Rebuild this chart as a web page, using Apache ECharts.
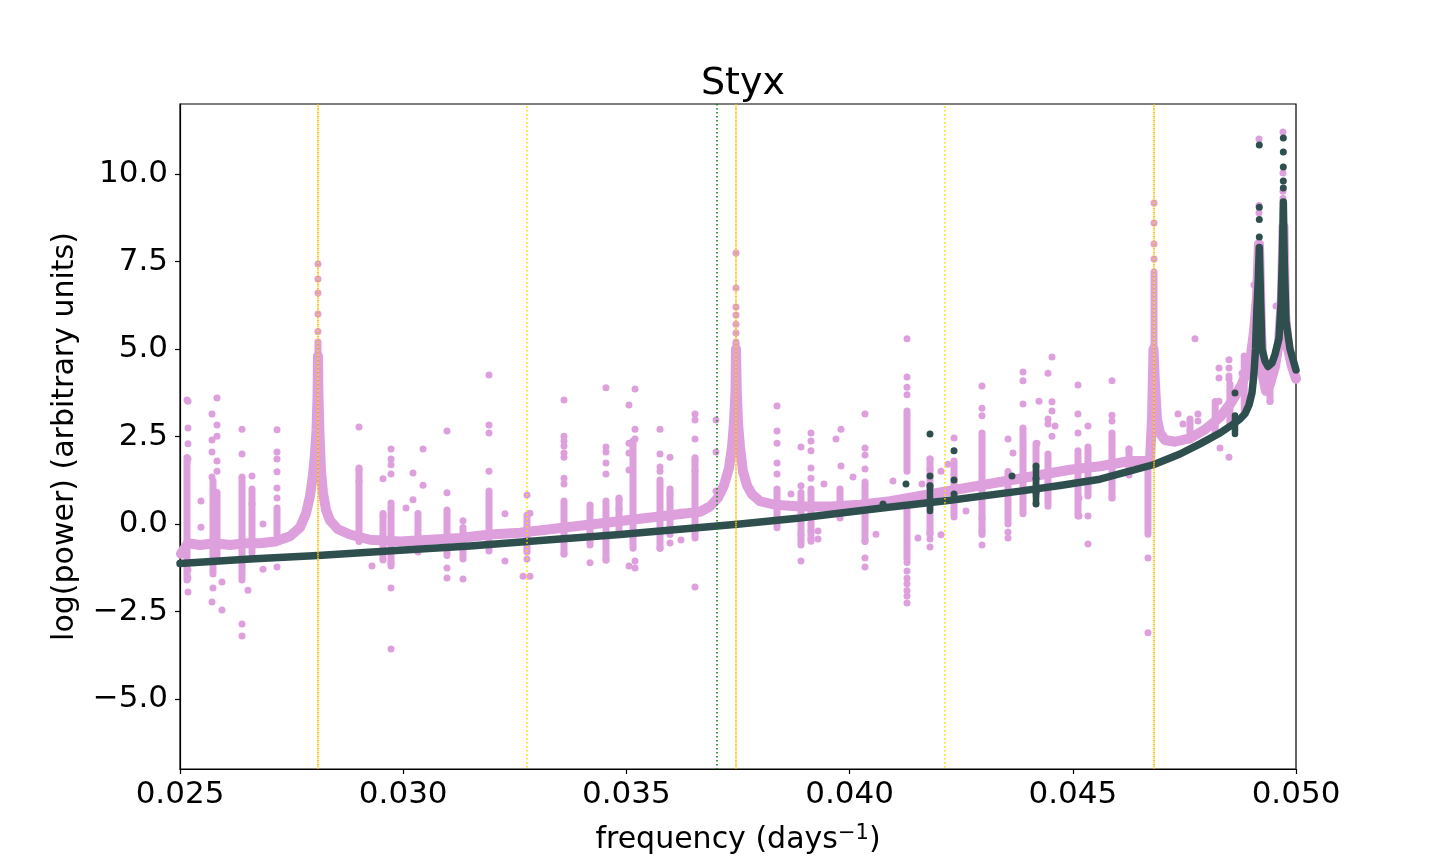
<!DOCTYPE html>
<html>
<head>
<meta charset="utf-8">
<title>Styx</title>
<script src="https://cdn.jsdelivr.net/npm/echarts@6/dist/echarts.min.js"></script>
<style>
  html, body { margin: 0; padding: 0; background: #fff; }
  #chart { width: 1440px; height: 864px; }
</style>
</head>
<body>
<div id="chart"></div>
<script>
// tick positions
var xTicks = [0.025, 0.030, 0.035, 0.040, 0.045, 0.050];
var yTicks = [-5, -2.5, 0, 2.5, 5, 7.5, 10];

// reference frequencies (vertical dotted lines)
var orangeLines = [0.028091, 0.037455, 0.046819];
var goldLines = [0.028091, 0.032773, 0.037455, 0.042137, 0.046819];
var greenLines = [0.037029];

// pink periodogram: continuum band [freq, log power]
var pinkBand = [
  [0.025022, -0.85], [0.025179, -0.55], [0.025448, -0.6], [0.025784, -0.55], [0.026120, -0.6],
  [0.026456, -0.55], [0.026792, -0.55], [0.027128, -0.5], [0.027464, -0.35], [0.027688, -0.1],
  [0.027823, 0.3], [0.027912, 0.8], [0.027979, 1.4], [0.028024, 2.0], [0.028058, 2.7],
  [0.028080, 3.6], [0.028091, 4.8], [0.028103, 3.6], [0.028125, 2.6], [0.028159, 1.5],
  [0.028203, 0.9], [0.028271, 0.4], [0.028360, 0.1], [0.028539, -0.15], [0.028808, -0.3],
  [0.029256, -0.45], [0.029928, -0.5], [0.030600, -0.45], [0.031272, -0.4], [0.031944, -0.3],
  [0.032616, -0.25], [0.033289, -0.15], [0.033961, -0.05], [0.034633, 0.05], [0.035305, 0.15],
  [0.035977, 0.25], [0.036649, 0.35], [0.036873, 0.5], [0.037052, 0.75], [0.037186, 1.1],
  [0.037298, 1.6], [0.037366, 2.2], [0.037410, 2.9], [0.037444, 3.8], [0.037455, 5.0],
  [0.037473, 3.8], [0.037500, 2.9], [0.037545, 2.2], [0.037612, 1.5], [0.037702, 1.1],
  [0.037814, 0.85], [0.037993, 0.65], [0.038329, 0.55], [0.038889, 0.5], [0.039561, 0.5],
  [0.040233, 0.55], [0.040905, 0.65], [0.041577, 0.8], [0.042249, 0.95], [0.042921, 1.1],
  [0.043593, 1.25], [0.044265, 1.4], [0.044937, 1.55], [0.045609, 1.65], [0.046281, 1.8],
  [0.046550, 1.8], [0.046729, 1.8], [0.046774, 3.0], [0.046808, 5.0], [0.046841, 4.0],
  [0.046886, 3.0], [0.046953, 2.6], [0.047065, 2.4], [0.047289, 2.35], [0.047625, 2.45],
  [0.047961, 2.7], [0.048297, 3.05], [0.048566, 3.5], [0.048790, 4.0], [0.048969, 4.6],
  [0.049059, 5.5], [0.049126, 6.5], [0.049171, 8.0], [0.049216, 5.5], [0.049261, 4.2],
  [0.049328, 3.8], [0.049418, 4.0], [0.049530, 4.5], [0.049619, 5.2], [0.049686, 6.5],
  [0.049720, 8.5], [0.049754, 6.0], [0.049821, 5.0], [0.049910, 4.5], [0.050000, 4.15]
];

// pink dense vertical clusters [freq, low, high]
var pinkStreaks = [
  [0.025157, -1.6, 1.9], [0.025739, -1.43, 1.23], [0.025829, -0.9, 0.9], [0.026389, -1.6, 1.3],
  [0.026613, -0.83, 1.0], [0.027173, -0.3, 0.46], [0.028091, 3.0, 5.2], [0.029010, -0.5, 1.6],
  [0.029548, -1.0, 0.3], [0.029727, -1.2, 0.6], [0.030331, -0.8, 0.3], [0.030981, -0.9, 0.4],
  [0.031340, -1.0, -0.1], [0.031922, -0.77, 0.94], [0.032773, -0.77, 0.2], [0.033602, -0.86, 0.66],
  [0.034185, -0.6, 0.51], [0.034543, -1.03, 0.66], [0.034834, -0.3, 0.74], [0.035148, -0.69, 2.37],
  [0.035753, -0.69, 1.2], [0.035977, -0.3, 1.0], [0.036537, -0.4, 1.89], [0.037455, 3.8, 5.2],
  [0.038374, -0.11, 1.0], [0.038911, -0.6, 0.9], [0.039135, -0.49, 1.0], [0.039785, 0.17, 1.0],
  [0.040345, -0.5, 1.2], [0.041286, 1.51, 3.23], [0.041286, -1.0, 0.57], [0.041801, -0.3, 1.86],
  [0.042339, 0.2, 1.8], [0.042966, -0.3, 2.6], [0.043548, 0.0, 1.5], [0.043884, 0.29, 2.74],
  [0.044176, 0.8, 2.3], [0.044444, 0.51, 2.0], [0.045116, 0.23, 2.09], [0.045340, 0.8, 2.2],
  [0.045878, 0.74, 2.6], [0.046259, 1.4, 2.14], [0.046684, -0.29, 1.8], [0.046819, 2.9, 7.2],
  [0.047625, 2.4, 3.0], [0.048190, 2.6, 3.5], [0.048520, 2.8, 4.0], [0.048840, 3.2, 4.8],
  [0.049418, 3.5, 4.4]
];

// pink isolated points
var pinkDots = [
  [0.025157, 3.54], [0.025179, 3.51], [0.025179, 2.74], [0.025179, 2.29], [0.025179, 1.86],
  [0.025179, -1.31], [0.025179, -1.54], [0.025179, -1.94], [0.025470, 0.66], [0.025470, -0.09],
  [0.025717, 3.14], [0.025717, 2.4], [0.025717, 2.06], [0.025717, 1.34], [0.025829, 3.6],
  [0.025829, 2.83], [0.025829, 2.51], [0.025829, 1.8], [0.025829, 1.51], [0.025717, -2.23],
  [0.025739, -1.83], [0.025941, -2.46], [0.025941, -1.66], [0.026389, 2.71], [0.026389, 2.0],
  [0.026389, 1.34], [0.026389, -2.86], [0.026389, -3.2], [0.026523, -1.89], [0.026613, 1.37],
  [0.026613, 0.57], [0.026859, 0.0], [0.026859, -1.29], [0.027173, 2.69], [0.027173, 2.06],
  [0.027173, 1.86], [0.027173, 1.49], [0.027173, 1.03], [0.027173, 0.74], [0.027173, -1.23],
  [0.028091, 5.5], [0.028091, 6.0], [0.028091, 6.6], [0.028091, 7.0], [0.028091, 7.43],
  [0.029010, 2.77], [0.029010, 1.54], [0.029010, 1.23], [0.029301, -1.2], [0.029548, 1.29],
  [0.029548, 0.23], [0.029548, -1.03], [0.029727, 2.14], [0.029727, 1.86], [0.029727, 1.69],
  [0.029727, 1.43], [0.029727, -1.11], [0.029727, -1.83], [0.029727, -3.57], [0.030063, 0.46],
  [0.030220, 1.46], [0.030220, 0.69], [0.030444, 2.14], [0.030444, 1.11], [0.030981, 2.66],
  [0.030981, 0.89], [0.030981, -1.26], [0.030981, -1.54], [0.031340, 0.09], [0.031340, -1.57],
  [0.031922, 4.26], [0.031922, 2.83], [0.031922, 2.6], [0.031922, 1.51], [0.032280, 0.29],
  [0.032280, -1.06], [0.032773, 0.83], [0.032773, 0.26], [0.032773, -0.8], [0.032773, -1.0],
  [0.032684, -1.49], [0.032840, -1.49], [0.032840, 0.31], [0.033602, 3.54], [0.033602, 2.51],
  [0.033602, 2.37], [0.033602, 2.23], [0.033602, 2.03], [0.033602, 1.91], [0.033602, 1.31],
  [0.033602, 1.14], [0.033602, -0.86], [0.034185, 0.54], [0.034185, -1.11], [0.034543, 3.89],
  [0.034543, 2.2], [0.034543, 2.06], [0.034543, 1.74], [0.034543, 1.43], [0.034543, -1.03],
  [0.034834, 0.71], [0.034834, 0.43], [0.035058, 3.4], [0.035058, 2.31], [0.035058, 2.03],
  [0.035058, 1.54], [0.035058, -1.2], [0.035193, 3.86], [0.035193, 2.71], [0.035193, 2.43],
  [0.035193, -1.06], [0.035193, -1.26], [0.035753, 2.71], [0.035753, 2.0], [0.035753, 1.63],
  [0.035753, 1.51], [0.035753, 1.26], [0.035753, -0.69], [0.035977, 1.91], [0.035977, 0.86],
  [0.035977, -0.54], [0.036223, 0.34], [0.036223, -0.46], [0.036537, 3.14], [0.036537, 2.97],
  [0.036537, 2.43], [0.036537, 1.83], [0.036537, 1.51], [0.036537, -1.8], [0.037007, 2.97],
  [0.037007, 2.06], [0.037007, 0.94], [0.037455, 5.46], [0.037455, 5.71], [0.037455, 5.97],
  [0.037455, 6.2], [0.037455, 6.74], [0.037455, 7.74], [0.038374, 3.37], [0.038374, 2.66],
  [0.038374, 2.31], [0.038374, 1.74], [0.038374, 1.43], [0.038687, 0.86], [0.038911, 2.2],
  [0.038911, 1.09], [0.038911, -0.31], [0.038911, -1.06], [0.039135, 2.6], [0.039135, 2.37],
  [0.039135, 2.09], [0.039135, 1.6], [0.039135, 1.31], [0.039135, -0.2], [0.039135, -0.43],
  [0.039292, -0.2], [0.039292, -0.43], [0.039426, 1.14], [0.039695, 2.43], [0.039807, 2.71],
  [0.039807, 1.66], [0.040076, 1.34], [0.040345, 3.14], [0.040345, 2.17], [0.040345, 1.97],
  [0.040345, 1.57], [0.040345, -0.49], [0.040345, -0.97], [0.040345, -1.23], [0.040591, -0.29],
  [0.040972, 1.23], [0.041286, 5.29], [0.041286, 4.2], [0.041286, 3.91], [0.041286, 3.69],
  [0.041286, -1.1], [0.041286, -1.34], [0.041286, -1.55], [0.041286, -1.71], [0.041286, -1.9],
  [0.041286, -2.06], [0.041286, -2.26], [0.041532, -0.4], [0.041622, 1.14], [0.041801, 1.86],
  [0.041801, 1.57], [0.041801, -0.26], [0.041801, -0.43], [0.041801, -0.66], [0.042047, 1.51],
  [0.042047, -0.31], [0.042204, 1.71], [0.042339, 2.46], [0.042607, 0.37], [0.042966, 3.94],
  [0.042966, 3.31], [0.042966, 3.09], [0.042966, 0.17], [0.042966, -0.2], [0.042966, -0.6],
  [0.043548, 2.43], [0.043548, -0.23], [0.043548, -0.4], [0.043660, 2.03], [0.043884, 4.34],
  [0.043884, 4.09], [0.043884, 3.43], [0.044198, 2.31], [0.044243, 3.51], [0.044444, 4.31],
  [0.044444, 3.0], [0.044444, 2.86], [0.044534, 4.77], [0.044534, 3.49], [0.044534, 3.23],
  [0.044534, 2.51], [0.044601, 2.8], [0.045116, 3.97], [0.045116, 3.14], [0.045116, 2.6],
  [0.045340, 2.8], [0.045340, 0.23], [0.045340, -0.57], [0.045139, 0.74], [0.045139, 0.23],
  [0.045878, 4.09], [0.045878, 3.11], [0.045878, 2.94], [0.045878, 0.74], [0.046259, 2.14],
  [0.046684, -0.97], [0.046684, -3.11], [0.046819, 7.57], [0.046819, 8.0], [0.046819, 8.6],
  [0.046819, 9.17], [0.047356, 3.14], [0.047468, 2.86], [0.047737, 5.29], [0.047804, 3.14],
  [0.047804, 2.94], [0.048275, 4.46], [0.048275, 4.17], [0.048275, 3.51], [0.048297, 2.17],
  [0.048499, 4.69], [0.048499, 4.46], [0.048499, 4.23], [0.048499, 4.14], [0.048499, 1.91],
  [0.048790, 4.31], [0.049059, 6.83], [0.049552, 6.23], [0.049171, 11.0], [0.049171, 9.1],
  [0.049171, 8.89], [0.049171, 7.74], [0.049708, 11.2], [0.049708, 10.03], [0.049708, 9.51],
  [0.049708, 9.3], [0.049373, 3.8], [0.049418, 3.51]
];

// dark model curve
var darkCurve = [
  [0.025000, -1.13], [0.026568, -1.0], [0.028091, -0.9], [0.029928, -0.75], [0.031496, -0.63],
  [0.033289, -0.45], [0.034857, -0.3], [0.036649, -0.1], [0.037545, 0.0], [0.038889, 0.17],
  [0.040681, 0.45], [0.042249, 0.68], [0.043817, 0.94], [0.044713, 1.1], [0.045609, 1.28],
  [0.046819, 1.7], [0.047401, 2.0], [0.047849, 2.29], [0.048297, 2.6], [0.048588, 2.85],
  [0.048746, 3.0], [0.048858, 3.15], [0.048947, 3.4], [0.049014, 3.75], [0.049059, 4.3],
  [0.049093, 5.0], [0.049126, 6.2], [0.049155, 7.0], [0.049178, 7.9], [0.049205, 6.5],
  [0.049238, 5.0], [0.049306, 4.66], [0.049373, 4.5], [0.049462, 4.6], [0.049530, 4.85],
  [0.049619, 5.3], [0.049664, 6.3], [0.049698, 7.8], [0.049716, 9.2], [0.049738, 7.5],
  [0.049776, 5.8], [0.049866, 5.0], [0.050000, 4.4]
];

var darkStreaks = [
  [0.041801, 0.37, 1.09], [0.044176, 0.6, 1.6], [0.048633, 2.57, 3.1]
];

var darkDots = [
  [0.049178, 8.2], [0.049178, 8.7], [0.049178, 9.05], [0.049178, 10.83],
  [0.049716, 9.6], [0.049716, 9.8], [0.049716, 10.2], [0.049716, 10.63], [0.049716, 11.03],
  [0.040748, 0.57], [0.041263, 1.14], [0.041801, 2.57], [0.041801, 1.37], [0.041801, 1.09],
  [0.042339, 2.09], [0.042339, 1.26], [0.042339, 0.86], [0.043638, 1.37],
  [0.044176, 1.66], [0.044176, 1.3], [0.044176, 0.9], [0.044176, 0.57], [0.048633, 3.74]
];

var PINK = '#dda0dd';
var DARK = '#2f4f4f';
var FONT = 'DejaVu Sans';

function streakItem(color, width) {
  return function (params, api) {
    var p0 = api.coord([api.value(0), api.value(1)]);
    var p1 = api.coord([api.value(0), api.value(2)]);
    return {
      type: 'line',
      shape: { x1: p0[0], y1: p0[1], x2: p1[0], y2: p1[1] },
      style: { stroke: color, lineWidth: width, lineCap: 'round' }
    };
  };
}

function vlineItem(color, offset) {
  return function (params, api) {
    var cs = params.coordSys;
    var p = api.coord([api.value(0), 0]);
    return {
      type: 'line',
      shape: { x1: p[0], y1: cs.y, x2: p[0], y2: cs.y + cs.height },
      style: { stroke: color, lineWidth: 1.5, lineDash: [1.5, 2.5], lineDashOffset: offset }
    };
  };
}

function vlineSeries(vals, color, offset) {
  return {
    type: 'custom',
    data: vals.map(function (v) { return [v]; }),
    encode: { x: 0 },
    renderItem: vlineItem(color, offset),
    z: 10,
    silent: true
  };
}

var myChart = echarts.init(document.getElementById('chart'));
var option = {
  animation: false,
  title: {
    text: 'Styx',
    left: 738,
    top: 60,
    textAlign: 'center',
    textStyle: { fontFamily: FONT, fontSize: 38, fontWeight: 'normal', color: '#000' }
  },
  grid: {
    left: 180, right: 144, top: 104, bottom: 95,
    show: true, borderColor: '#000', borderWidth: 1.2, backgroundColor: 'transparent'
  },
  xAxis: {
    type: 'value',
    min: 0.025,
    max: 0.050,
    name: '{a|frequency (days}{s|\u22121}{a|)}',
    nameLocation: 'middle',
    nameGap: 54,
    nameTextStyle: {
      fontFamily: FONT, fontSize: 30, color: '#000',
      rich: {
        a: { fontFamily: FONT, fontSize: 30, color: '#000', lineHeight: 34 },
        s: { fontFamily: FONT, fontSize: 21, color: '#000', verticalAlign: 'top', lineHeight: 34, padding: [0, 0, 10, 0] }
      }
    },
    axisLine: { show: true, onZero: false, lineStyle: { color: '#000', width: 1.2 } },
    axisTick: { show: true, length: 5, customValues: xTicks, lineStyle: { color: '#000', width: 1.2 } },
    axisLabel: {
      customValues: xTicks, margin: 10,
      fontFamily: FONT, fontSize: 31, color: '#000',
      formatter: function (v) { return v.toFixed(3); }
    },
    splitLine: { show: false }
  },
  yAxis: {
    type: 'value',
    min: -7,
    max: 12,
    name: 'log(power) (arbitrary units)',
    nameLocation: 'middle',
    nameGap: 100,
    nameTextStyle: { fontFamily: FONT, fontSize: 30, color: '#000' },
    axisLine: { show: true, onZero: false, lineStyle: { color: '#000', width: 1.2 } },
    axisTick: { show: true, length: 5, customValues: yTicks, lineStyle: { color: '#000', width: 1.2 } },
    axisLabel: {
      customValues: yTicks, margin: 12,
      fontFamily: FONT, fontSize: 31, color: '#000',
      formatter: function (v) { return v.toFixed(1).replace('-', '\u2212'); }
    },
    splitLine: { show: false }
  },
  series: [
    {
      type: 'line', data: pinkBand, showSymbol: false, z: 1, silent: true,
      lineStyle: { color: PINK, width: 10, join: 'round', cap: 'round' }
    },
    {
      type: 'custom', data: pinkStreaks, encode: { x: 0, y: [1, 2] },
      renderItem: streakItem(PINK, 7), z: 2, silent: true
    },
    {
      type: 'scatter', data: pinkDots, symbolSize: 7, z: 3, silent: true,
      itemStyle: { color: PINK, opacity: 1 }
    },
    {
      type: 'line', data: darkCurve, showSymbol: false, z: 4, silent: true,
      lineStyle: { color: DARK, width: 7.5, join: 'round', cap: 'round' }
    },
    {
      type: 'custom', data: darkStreaks, encode: { x: 0, y: [1, 2] },
      renderItem: streakItem(DARK, 6.5), z: 5, silent: true
    },
    {
      type: 'scatter', data: darkDots, symbolSize: 7, z: 5, silent: true,
      itemStyle: { color: DARK, opacity: 1 }
    },
    vlineSeries(orangeLines, '#ffa500', 0),
    vlineSeries(goldLines, '#ffd700', 2),
    vlineSeries(greenLines, '#008000', 0)
  ]
};
myChart.setOption(option);
</script>
</body>
</html>
